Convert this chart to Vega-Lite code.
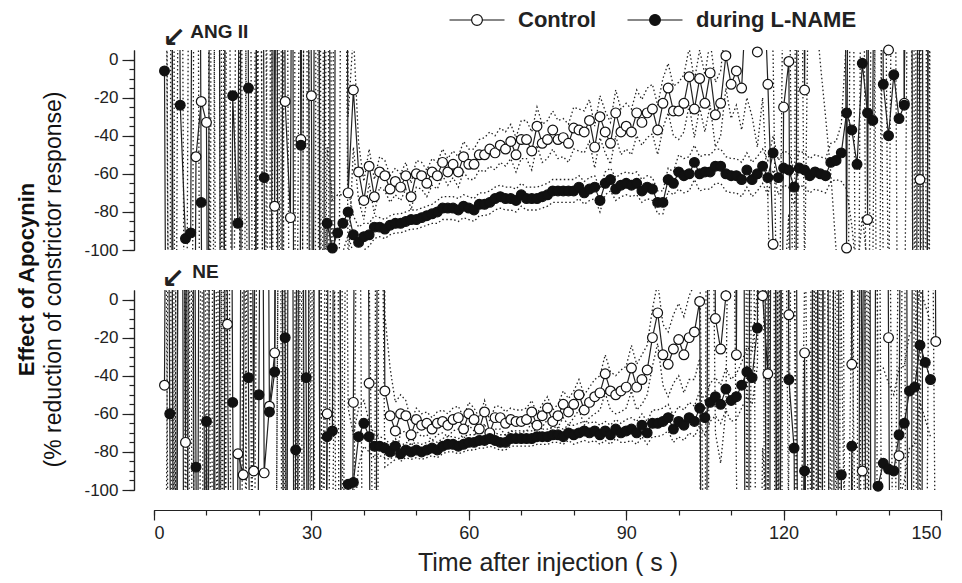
{
"$schema":"https://vega.github.io/schema/vega-lite/v6.json",
"usermeta":{"embedOptions":{"actions":false}},
"background":"white",
"padding":{"left":15,"top":8,"right":8,"bottom":5},
"config":{"view":{"stroke":null},"font":"Liberation Sans","axis":{"domainColor":"#222","tickColor":"#222","labelColor":"#222","titleColor":"#222","labelFont":"Liberation Sans","titleFont":"Liberation Sans","grid":false,"domainWidth":1.2,"tickWidth":1.2}},
"title":{"text":"Effect of Apocynin","subtitle":"(% reduction of constrictor response)","orient":"left","anchor":"middle","frame":"bounds","dx":12,"font":"Liberation Sans","fontSize":22,"fontWeight":"bold","color":"#111","subtitleFont":"Liberation Sans","subtitleFontSize":23,"subtitleFontWeight":"normal","subtitleColor":"#111","subtitlePadding":4,"offset":17},
"data":{"values":[
{"p":"A","lab":"ANG II","t":6.9,"v":14.4},
{"p":"A","arr":"↙","t":3.8,"v":11},
{"p":"N","lab":"NE","t":7.3,"v":14.4},
{"p":"N","arr":"↙","t":3.6,"v":10},
{"p":"A","s":"C","t":2,"v":600,"lo":300,"hi":900},
{"p":"A","s":"C","t":3,"v":600,"lo":-300,"hi":1500},
{"p":"A","s":"C","t":4,"v":-600,"lo":-900,"hi":-300},
{"p":"A","s":"C","t":5,"v":-600,"lo":-1500,"hi":300},
{"p":"A","s":"C","t":6,"v":-600,"lo":-900,"hi":-300},
{"p":"A","s":"C","t":7,"v":-600,"lo":-1500,"hi":300},
{"p":"A","s":"C","t":8,"v":-51,"lo":-301,"hi":199},
{"p":"A","s":"C","t":9,"v":-22,"lo":-272,"hi":228},
{"p":"A","s":"C","t":10,"v":-33,"lo":-283,"hi":217},
{"p":"A","s":"C","t":11,"v":-600,"lo":-900,"hi":-300},
{"p":"A","s":"C","t":12,"v":-600,"lo":-1500,"hi":300},
{"p":"A","s":"C","t":13,"v":-600,"lo":-900,"hi":-300},
{"p":"A","s":"C","t":14,"v":600,"lo":300,"hi":900},
{"p":"A","s":"C","t":15,"v":600,"lo":-300,"hi":1500},
{"p":"A","s":"C","t":16,"v":600,"lo":300,"hi":900},
{"p":"A","s":"C","t":17,"v":-600,"lo":-900,"hi":-300},
{"p":"A","s":"C","t":18,"v":-600,"lo":-1500,"hi":300},
{"p":"A","s":"C","t":19,"v":-600,"lo":-900,"hi":-300},
{"p":"A","s":"C","t":20,"v":600,"lo":300,"hi":900},
{"p":"A","s":"C","t":21,"v":600,"lo":-300,"hi":1500},
{"p":"A","s":"C","t":22,"v":600,"lo":300,"hi":900},
{"p":"A","s":"C","t":23,"v":-77,"lo":-327,"hi":173},
{"p":"A","s":"C","t":24,"v":600,"lo":300,"hi":900},
{"p":"A","s":"C","t":25,"v":-22,"lo":-272,"hi":228},
{"p":"A","s":"C","t":26,"v":-83,"lo":-333,"hi":167},
{"p":"A","s":"C","t":27,"v":600,"lo":-300,"hi":1500},
{"p":"A","s":"C","t":28,"v":-42,"lo":-292,"hi":208},
{"p":"A","s":"C","t":29,"v":600,"lo":300,"hi":900},
{"p":"A","s":"C","t":30,"v":-19,"lo":-269,"hi":231},
{"p":"A","s":"C","t":31,"v":-600,"lo":-1500,"hi":300},
{"p":"A","s":"C","t":32,"v":-600,"lo":-900,"hi":-300},
{"p":"A","s":"C","t":33,"v":600,"lo":300,"hi":900},
{"p":"A","s":"C","t":34,"v":-600,"lo":-900,"hi":-300},
{"p":"A","s":"C","t":35,"v":600,"lo":-300,"hi":1500},
{"p":"A","s":"C","t":36,"v":600,"lo":300,"hi":900},
{"p":"A","s":"C","t":37,"v":-70,"lo":-110,"hi":-30},
{"p":"A","s":"C","t":38,"v":-16,"lo":-46,"hi":14},
{"p":"A","s":"C","t":39,"v":-59,"lo":-74,"hi":-44},
{"p":"A","s":"C","t":40,"v":-74,"lo":-84,"hi":-64},
{"p":"A","s":"C","t":41,"v":-56,"lo":-65,"hi":-47},
{"p":"A","s":"C","t":42,"v":-72,"lo":-81,"hi":-63},
{"p":"A","s":"C","t":43,"v":-59,"lo":-67,"hi":-51},
{"p":"A","s":"C","t":44,"v":-61,"lo":-69,"hi":-53},
{"p":"A","s":"C","t":45,"v":-68,"lo":-75,"hi":-61},
{"p":"A","s":"C","t":46,"v":-64,"lo":-71,"hi":-57},
{"p":"A","s":"C","t":47,"v":-67,"lo":-74,"hi":-60},
{"p":"A","s":"C","t":48,"v":-61,"lo":-68,"hi":-54},
{"p":"A","s":"C","t":49,"v":-72,"lo":-79,"hi":-65},
{"p":"A","s":"C","t":50,"v":-60,"lo":-67,"hi":-53},
{"p":"A","s":"C","t":51,"v":-61,"lo":-68,"hi":-54},
{"p":"A","s":"C","t":52,"v":-65,"lo":-72,"hi":-58},
{"p":"A","s":"C","t":53,"v":-59,"lo":-66,"hi":-52},
{"p":"A","s":"C","t":54,"v":-61,"lo":-68,"hi":-54},
{"p":"A","s":"C","t":55,"v":-54,"lo":-61,"hi":-47},
{"p":"A","s":"C","t":56,"v":-59,"lo":-66,"hi":-52},
{"p":"A","s":"C","t":57,"v":-55,"lo":-62,"hi":-48},
{"p":"A","s":"C","t":58,"v":-59,"lo":-67,"hi":-51},
{"p":"A","s":"C","t":59,"v":-51,"lo":-59,"hi":-43},
{"p":"A","s":"C","t":60,"v":-55,"lo":-63,"hi":-47},
{"p":"A","s":"C","t":61,"v":-55,"lo":-63,"hi":-47},
{"p":"A","s":"C","t":62,"v":-50,"lo":-58,"hi":-42},
{"p":"A","s":"C","t":63,"v":-50,"lo":-59,"hi":-41},
{"p":"A","s":"C","t":64,"v":-47,"lo":-56,"hi":-38},
{"p":"A","s":"C","t":65,"v":-49,"lo":-58,"hi":-40},
{"p":"A","s":"C","t":66,"v":-45,"lo":-54,"hi":-36},
{"p":"A","s":"C","t":67,"v":-47,"lo":-56,"hi":-38},
{"p":"A","s":"C","t":68,"v":-43,"lo":-52,"hi":-34},
{"p":"A","s":"C","t":69,"v":-50,"lo":-59,"hi":-41},
{"p":"A","s":"C","t":70,"v":-42,"lo":-52,"hi":-32},
{"p":"A","s":"C","t":71,"v":-42,"lo":-52,"hi":-32},
{"p":"A","s":"C","t":72,"v":-48,"lo":-58,"hi":-38},
{"p":"A","s":"C","t":73,"v":-35,"lo":-45,"hi":-25},
{"p":"A","s":"C","t":74,"v":-44,"lo":-54,"hi":-34},
{"p":"A","s":"C","t":75,"v":-42,"lo":-52,"hi":-32},
{"p":"A","s":"C","t":76,"v":-37,"lo":-47,"hi":-27},
{"p":"A","s":"C","t":77,"v":-42,"lo":-52,"hi":-32},
{"p":"A","s":"C","t":78,"v":-41,"lo":-51,"hi":-31},
{"p":"A","s":"C","t":79,"v":-44,"lo":-54,"hi":-34},
{"p":"A","s":"C","t":80,"v":-36,"lo":-47,"hi":-25},
{"p":"A","s":"C","t":81,"v":-37,"lo":-48,"hi":-26},
{"p":"A","s":"C","t":82,"v":-38,"lo":-49,"hi":-27},
{"p":"A","s":"C","t":83,"v":-32,"lo":-43,"hi":-21},
{"p":"A","s":"C","t":84,"v":-46,"lo":-57,"hi":-35},
{"p":"A","s":"C","t":85,"v":-30,"lo":-41,"hi":-19},
{"p":"A","s":"C","t":86,"v":-38,"lo":-49,"hi":-27},
{"p":"A","s":"C","t":87,"v":-44,"lo":-55,"hi":-33},
{"p":"A","s":"C","t":88,"v":-28,"lo":-40,"hi":-16},
{"p":"A","s":"C","t":89,"v":-38,"lo":-50,"hi":-26},
{"p":"A","s":"C","t":90,"v":-35,"lo":-47,"hi":-23},
{"p":"A","s":"C","t":91,"v":-38,"lo":-50,"hi":-26},
{"p":"A","s":"C","t":92,"v":-28,"lo":-40,"hi":-16},
{"p":"A","s":"C","t":93,"v":-33,"lo":-45,"hi":-21},
{"p":"A","s":"C","t":94,"v":-28,"lo":-41,"hi":-15},
{"p":"A","s":"C","t":95,"v":-26,"lo":-39,"hi":-13},
{"p":"A","s":"C","t":96,"v":-37,"lo":-50,"hi":-24},
{"p":"A","s":"C","t":97,"v":-23,"lo":-36,"hi":-10},
{"p":"A","s":"C","t":98,"v":-15,"lo":-28,"hi":-2},
{"p":"A","s":"C","t":99,"v":-27,"lo":-40,"hi":-14},
{"p":"A","s":"C","t":100,"v":-27,"lo":-42,"hi":-12},
{"p":"A","s":"C","t":101,"v":-23,"lo":-38,"hi":-8},
{"p":"A","s":"C","t":102,"v":-9,"lo":-24,"hi":6},
{"p":"A","s":"C","t":103,"v":-26,"lo":-41,"hi":-11},
{"p":"A","s":"C","t":104,"v":-10,"lo":-25,"hi":5},
{"p":"A","s":"C","t":105,"v":-23,"lo":-38,"hi":-8},
{"p":"A","s":"C","t":106,"v":-7,"lo":-24,"hi":10},
{"p":"A","s":"C","t":107,"v":-29,"lo":-46,"hi":-12},
{"p":"A","s":"C","t":108,"v":-23,"lo":-40,"hi":-6},
{"p":"A","s":"C","t":109,"v":2,"lo":-15,"hi":19},
{"p":"A","s":"C","t":110,"v":-13,"lo":-31,"hi":5},
{"p":"A","s":"C","t":111,"v":-6,"lo":-24,"hi":12},
{"p":"A","s":"C","t":112,"v":-15,"lo":-37,"hi":7},
{"p":"A","s":"C","t":113,"v":40,"lo":-20,"hi":100},
{"p":"A","s":"C","t":114,"v":30,"lo":-30,"hi":90},
{"p":"A","s":"C","t":115,"v":4,"lo":-46,"hi":54},
{"p":"A","s":"C","t":116,"v":60,"lo":-20,"hi":140},
{"p":"A","s":"C","t":117,"v":-13,"lo":-73,"hi":47},
{"p":"A","s":"C","t":118,"v":-97,"lo":-197,"hi":3},
{"p":"A","s":"C","t":119,"v":-500,"lo":-800,"hi":-200},
{"p":"A","s":"C","t":120,"v":-25,"lo":-125,"hi":75},
{"p":"A","s":"C","t":121,"v":-1,"lo":-81,"hi":79},
{"p":"A","s":"C","t":122,"v":-500,"lo":-800,"hi":-200},
{"p":"A","s":"C","t":123,"v":500,"lo":200,"hi":800},
{"p":"A","s":"C","t":124,"v":-16,"lo":-116,"hi":84},
{"p":"A","s":"C","t":125,"v":500,"lo":100,"hi":900},
{"p":"A","s":"C","t":126,"v":500,"lo":30,"hi":970},
{"p":"A","s":"C","t":127,"v":500,"lo":-2,"hi":1000},
{"p":"A","s":"C","t":128,"v":500,"lo":-30,"hi":1030},
{"p":"A","s":"C","t":129,"v":500,"lo":-60,"hi":1060},
{"p":"A","s":"C","t":130,"v":500,"lo":-100,"hi":1100},
{"p":"A","s":"C","t":131,"v":500,"lo":-150,"hi":1150},
{"p":"A","s":"C","t":132,"v":-99,"lo":-299,"hi":101},
{"p":"A","s":"C","t":133,"v":500,"lo":200,"hi":800},
{"p":"A","s":"C","t":134,"v":500,"lo":-300,"hi":1300},
{"p":"A","s":"C","t":135,"v":500,"lo":200,"hi":800},
{"p":"A","s":"C","t":136,"v":-84,"lo":-284,"hi":116},
{"p":"A","s":"C","t":137,"v":500,"lo":200,"hi":800},
{"p":"A","s":"C","t":138,"v":500,"lo":-300,"hi":1300},
{"p":"A","s":"C","t":139,"v":500,"lo":200,"hi":800},
{"p":"A","s":"C","t":140,"v":5,"lo":-145,"hi":155},
{"p":"A","s":"C","t":141,"v":500,"lo":200,"hi":800},
{"p":"A","s":"C","t":142,"v":500,"lo":-300,"hi":1300},
{"p":"A","s":"C","t":143,"v":-23,"lo":-173,"hi":127},
{"p":"A","s":"C","t":144,"v":500,"lo":200,"hi":800},
{"p":"A","s":"C","t":145,"v":500,"lo":-300,"hi":1300},
{"p":"A","s":"C","t":146,"v":-63,"lo":-263,"hi":137},
{"p":"A","s":"C","t":147,"v":-500,"lo":-800,"hi":-200},
{"p":"A","s":"C","t":148,"v":500,"lo":200,"hi":800},
{"p":"A","s":"L","t":2,"v":-6,"lo":-256,"hi":244},
{"p":"A","s":"L","t":3,"v":-600,"lo":-900,"hi":-300},
{"p":"A","s":"L","t":4,"v":600,"lo":-300,"hi":1500},
{"p":"A","s":"L","t":5,"v":-24,"lo":-274,"hi":226},
{"p":"A","s":"L","t":6,"v":-94,"lo":-344,"hi":156},
{"p":"A","s":"L","t":7,"v":-91,"lo":-341,"hi":159},
{"p":"A","s":"L","t":8,"v":600,"lo":300,"hi":900},
{"p":"A","s":"L","t":9,"v":-75,"lo":-325,"hi":175},
{"p":"A","s":"L","t":10,"v":-600,"lo":-1500,"hi":300},
{"p":"A","s":"L","t":11,"v":600,"lo":300,"hi":900},
{"p":"A","s":"L","t":12,"v":600,"lo":-300,"hi":1500},
{"p":"A","s":"L","t":13,"v":-600,"lo":-900,"hi":-300},
{"p":"A","s":"L","t":14,"v":-600,"lo":-1500,"hi":300},
{"p":"A","s":"L","t":15,"v":-19,"lo":-269,"hi":231},
{"p":"A","s":"L","t":16,"v":-86,"lo":-336,"hi":164},
{"p":"A","s":"L","t":17,"v":600,"lo":300,"hi":900},
{"p":"A","s":"L","t":18,"v":-15,"lo":-265,"hi":235},
{"p":"A","s":"L","t":19,"v":-600,"lo":-1500,"hi":300},
{"p":"A","s":"L","t":20,"v":600,"lo":300,"hi":900},
{"p":"A","s":"L","t":21,"v":-62,"lo":-312,"hi":188},
{"p":"A","s":"L","t":22,"v":-600,"lo":-900,"hi":-300},
{"p":"A","s":"L","t":23,"v":600,"lo":-300,"hi":1500},
{"p":"A","s":"L","t":24,"v":-600,"lo":-900,"hi":-300},
{"p":"A","s":"L","t":25,"v":600,"lo":300,"hi":900},
{"p":"A","s":"L","t":26,"v":600,"lo":-300,"hi":1500},
{"p":"A","s":"L","t":27,"v":-600,"lo":-900,"hi":-300},
{"p":"A","s":"L","t":28,"v":-45,"lo":-295,"hi":205},
{"p":"A","s":"L","t":29,"v":600,"lo":300,"hi":900},
{"p":"A","s":"L","t":30,"v":-600,"lo":-1500,"hi":300},
{"p":"A","s":"L","t":31,"v":600,"lo":300,"hi":900},
{"p":"A","s":"L","t":32,"v":-600,"lo":-900,"hi":-300},
{"p":"A","s":"L","t":33,"v":-86,"lo":-126,"hi":-46},
{"p":"A","s":"L","t":34,"v":-99,"lo":-124,"hi":-74},
{"p":"A","s":"L","t":35,"v":-91,"lo":-111,"hi":-71},
{"p":"A","s":"L","t":36,"v":-86,"lo":-101,"hi":-71},
{"p":"A","s":"L","t":37,"v":-80,"lo":-92,"hi":-68},
{"p":"A","s":"L","t":38,"v":-92,"lo":-102,"hi":-82},
{"p":"A","s":"L","t":39,"v":-96,"lo":-104,"hi":-88},
{"p":"A","s":"L","t":40,"v":-93,"lo":-100,"hi":-86},
{"p":"A","s":"L","t":41,"v":-92,"lo":-98,"hi":-86},
{"p":"A","s":"L","t":42,"v":-88,"lo":-94,"hi":-82},
{"p":"A","s":"L","t":43,"v":-88,"lo":-93,"hi":-83},
{"p":"A","s":"L","t":44,"v":-89,"lo":-94,"hi":-84},
{"p":"A","s":"L","t":45,"v":-87,"lo":-92,"hi":-82},
{"p":"A","s":"L","t":46,"v":-86,"lo":-91,"hi":-81},
{"p":"A","s":"L","t":47,"v":-86,"lo":-91,"hi":-81},
{"p":"A","s":"L","t":48,"v":-85,"lo":-90,"hi":-80},
{"p":"A","s":"L","t":49,"v":-84,"lo":-89,"hi":-79},
{"p":"A","s":"L","t":50,"v":-84,"lo":-89,"hi":-79},
{"p":"A","s":"L","t":51,"v":-83,"lo":-88,"hi":-78},
{"p":"A","s":"L","t":52,"v":-82,"lo":-87,"hi":-77},
{"p":"A","s":"L","t":53,"v":-81,"lo":-86,"hi":-76},
{"p":"A","s":"L","t":54,"v":-80,"lo":-86,"hi":-74},
{"p":"A","s":"L","t":55,"v":-78,"lo":-84,"hi":-72},
{"p":"A","s":"L","t":56,"v":-78,"lo":-84,"hi":-72},
{"p":"A","s":"L","t":57,"v":-78,"lo":-84,"hi":-72},
{"p":"A","s":"L","t":58,"v":-79,"lo":-85,"hi":-73},
{"p":"A","s":"L","t":59,"v":-77,"lo":-83,"hi":-71},
{"p":"A","s":"L","t":60,"v":-78,"lo":-84,"hi":-72},
{"p":"A","s":"L","t":61,"v":-79,"lo":-85,"hi":-73},
{"p":"A","s":"L","t":62,"v":-76,"lo":-82,"hi":-70},
{"p":"A","s":"L","t":63,"v":-76,"lo":-82,"hi":-70},
{"p":"A","s":"L","t":64,"v":-75,"lo":-81,"hi":-69},
{"p":"A","s":"L","t":65,"v":-73,"lo":-79,"hi":-67},
{"p":"A","s":"L","t":66,"v":-72,"lo":-78,"hi":-66},
{"p":"A","s":"L","t":67,"v":-73,"lo":-79,"hi":-67},
{"p":"A","s":"L","t":68,"v":-73,"lo":-79,"hi":-67},
{"p":"A","s":"L","t":69,"v":-74,"lo":-80,"hi":-68},
{"p":"A","s":"L","t":70,"v":-71,"lo":-77,"hi":-65},
{"p":"A","s":"L","t":71,"v":-73,"lo":-79,"hi":-67},
{"p":"A","s":"L","t":72,"v":-73,"lo":-79,"hi":-67},
{"p":"A","s":"L","t":73,"v":-73,"lo":-79,"hi":-67},
{"p":"A","s":"L","t":74,"v":-72,"lo":-78,"hi":-66},
{"p":"A","s":"L","t":75,"v":-71,"lo":-77,"hi":-65},
{"p":"A","s":"L","t":76,"v":-69,"lo":-75,"hi":-63},
{"p":"A","s":"L","t":77,"v":-69,"lo":-75,"hi":-63},
{"p":"A","s":"L","t":78,"v":-69,"lo":-75,"hi":-63},
{"p":"A","s":"L","t":79,"v":-69,"lo":-75,"hi":-63},
{"p":"A","s":"L","t":80,"v":-69,"lo":-75,"hi":-63},
{"p":"A","s":"L","t":81,"v":-67,"lo":-73,"hi":-61},
{"p":"A","s":"L","t":82,"v":-70,"lo":-76,"hi":-64},
{"p":"A","s":"L","t":83,"v":-68,"lo":-74,"hi":-62},
{"p":"A","s":"L","t":84,"v":-67,"lo":-73,"hi":-61},
{"p":"A","s":"L","t":85,"v":-74,"lo":-80,"hi":-68},
{"p":"A","s":"L","t":86,"v":-65,"lo":-71,"hi":-59},
{"p":"A","s":"L","t":87,"v":-63,"lo":-69,"hi":-57},
{"p":"A","s":"L","t":88,"v":-68,"lo":-74,"hi":-62},
{"p":"A","s":"L","t":89,"v":-66,"lo":-72,"hi":-60},
{"p":"A","s":"L","t":90,"v":-65,"lo":-71,"hi":-59},
{"p":"A","s":"L","t":91,"v":-66,"lo":-72,"hi":-60},
{"p":"A","s":"L","t":92,"v":-65,"lo":-71,"hi":-59},
{"p":"A","s":"L","t":93,"v":-69,"lo":-75,"hi":-63},
{"p":"A","s":"L","t":94,"v":-67,"lo":-73,"hi":-61},
{"p":"A","s":"L","t":95,"v":-68,"lo":-74,"hi":-62},
{"p":"A","s":"L","t":96,"v":-75,"lo":-81,"hi":-69},
{"p":"A","s":"L","t":97,"v":-75,"lo":-81,"hi":-69},
{"p":"A","s":"L","t":98,"v":-63,"lo":-69,"hi":-57},
{"p":"A","s":"L","t":99,"v":-65,"lo":-71,"hi":-59},
{"p":"A","s":"L","t":100,"v":-59,"lo":-68,"hi":-50},
{"p":"A","s":"L","t":101,"v":-61,"lo":-70,"hi":-52},
{"p":"A","s":"L","t":102,"v":-60,"lo":-69,"hi":-51},
{"p":"A","s":"L","t":103,"v":-54,"lo":-63,"hi":-45},
{"p":"A","s":"L","t":104,"v":-60,"lo":-69,"hi":-51},
{"p":"A","s":"L","t":105,"v":-59,"lo":-68,"hi":-50},
{"p":"A","s":"L","t":106,"v":-59,"lo":-68,"hi":-50},
{"p":"A","s":"L","t":107,"v":-56,"lo":-65,"hi":-47},
{"p":"A","s":"L","t":108,"v":-56,"lo":-65,"hi":-47},
{"p":"A","s":"L","t":109,"v":-60,"lo":-69,"hi":-51},
{"p":"A","s":"L","t":110,"v":-61,"lo":-70,"hi":-52},
{"p":"A","s":"L","t":111,"v":-61,"lo":-70,"hi":-52},
{"p":"A","s":"L","t":112,"v":-63,"lo":-72,"hi":-54},
{"p":"A","s":"L","t":113,"v":-58,"lo":-67,"hi":-49},
{"p":"A","s":"L","t":114,"v":-63,"lo":-72,"hi":-54},
{"p":"A","s":"L","t":115,"v":-60,"lo":-69,"hi":-51},
{"p":"A","s":"L","t":116,"v":-56,"lo":-65,"hi":-47},
{"p":"A","s":"L","t":117,"v":-62,"lo":-71,"hi":-53},
{"p":"A","s":"L","t":118,"v":-49,"lo":-58,"hi":-40},
{"p":"A","s":"L","t":119,"v":-62,"lo":-71,"hi":-53},
{"p":"A","s":"L","t":120,"v":-57,"lo":-66,"hi":-48},
{"p":"A","s":"L","t":121,"v":-58,"lo":-67,"hi":-49},
{"p":"A","s":"L","t":122,"v":-67,"lo":-76,"hi":-58},
{"p":"A","s":"L","t":123,"v":-57,"lo":-66,"hi":-48},
{"p":"A","s":"L","t":124,"v":-58,"lo":-67,"hi":-49},
{"p":"A","s":"L","t":125,"v":-61,"lo":-70,"hi":-52},
{"p":"A","s":"L","t":126,"v":-59,"lo":-68,"hi":-50},
{"p":"A","s":"L","t":127,"v":-60,"lo":-69,"hi":-51},
{"p":"A","s":"L","t":128,"v":-61,"lo":-70,"hi":-52},
{"p":"A","s":"L","t":129,"v":-54,"lo":-64,"hi":-44},
{"p":"A","s":"L","t":130,"v":-53,"lo":-63,"hi":-43},
{"p":"A","s":"L","t":131,"v":-49,"lo":-64,"hi":-34},
{"p":"A","s":"L","t":132,"v":-28,"lo":-68,"hi":12},
{"p":"A","s":"L","t":133,"v":-37,"lo":-87,"hi":13},
{"p":"A","s":"L","t":134,"v":-55,"lo":-115,"hi":5},
{"p":"A","s":"L","t":135,"v":-2,"lo":-82,"hi":78},
{"p":"A","s":"L","t":136,"v":-28,"lo":-108,"hi":52},
{"p":"A","s":"L","t":137,"v":-32,"lo":-112,"hi":48},
{"p":"A","s":"L","t":138,"v":500,"lo":200,"hi":800},
{"p":"A","s":"L","t":139,"v":-13,"lo":-113,"hi":87},
{"p":"A","s":"L","t":140,"v":-40,"lo":-140,"hi":60},
{"p":"A","s":"L","t":141,"v":-8,"lo":-108,"hi":92},
{"p":"A","s":"L","t":142,"v":-31,"lo":-131,"hi":69},
{"p":"A","s":"L","t":143,"v":-24,"lo":-124,"hi":76},
{"p":"A","s":"L","t":144,"v":500,"lo":-300,"hi":1300},
{"p":"A","s":"L","t":145,"v":-500,"lo":-800,"hi":-200},
{"p":"A","s":"L","t":146,"v":500,"lo":200,"hi":800},
{"p":"A","s":"L","t":147,"v":-500,"lo":-1300,"hi":300},
{"p":"A","s":"L","t":148,"v":500,"lo":200,"hi":800},
{"p":"N","s":"C","t":2,"v":-45,"lo":-295,"hi":205},
{"p":"N","s":"C","t":3,"v":500,"lo":200,"hi":800},
{"p":"N","s":"C","t":4,"v":-500,"lo":-800,"hi":-200},
{"p":"N","s":"C","t":5,"v":500,"lo":-300,"hi":1300},
{"p":"N","s":"C","t":6,"v":-75,"lo":-325,"hi":175},
{"p":"N","s":"C","t":7,"v":500,"lo":200,"hi":800},
{"p":"N","s":"C","t":8,"v":-500,"lo":-1300,"hi":300},
{"p":"N","s":"C","t":9,"v":500,"lo":200,"hi":800},
{"p":"N","s":"C","t":10,"v":-500,"lo":-800,"hi":-200},
{"p":"N","s":"C","t":11,"v":500,"lo":-300,"hi":1300},
{"p":"N","s":"C","t":12,"v":-500,"lo":-800,"hi":-200},
{"p":"N","s":"C","t":13,"v":500,"lo":200,"hi":800},
{"p":"N","s":"C","t":14,"v":-13,"lo":-263,"hi":237},
{"p":"N","s":"C","t":15,"v":-500,"lo":-1300,"hi":300},
{"p":"N","s":"C","t":16,"v":-81,"lo":-331,"hi":169},
{"p":"N","s":"C","t":17,"v":-92,"lo":-342,"hi":158},
{"p":"N","s":"C","t":18,"v":500,"lo":200,"hi":800},
{"p":"N","s":"C","t":19,"v":-90,"lo":-340,"hi":160},
{"p":"N","s":"C","t":20,"v":500,"lo":-300,"hi":1300},
{"p":"N","s":"C","t":21,"v":-91,"lo":-341,"hi":159},
{"p":"N","s":"C","t":22,"v":-56,"lo":-306,"hi":194},
{"p":"N","s":"C","t":23,"v":-28,"lo":-278,"hi":222},
{"p":"N","s":"C","t":24,"v":500,"lo":200,"hi":800},
{"p":"N","s":"C","t":25,"v":-500,"lo":-800,"hi":-200},
{"p":"N","s":"C","t":26,"v":500,"lo":-300,"hi":1300},
{"p":"N","s":"C","t":27,"v":-500,"lo":-800,"hi":-200},
{"p":"N","s":"C","t":28,"v":500,"lo":200,"hi":800},
{"p":"N","s":"C","t":29,"v":-500,"lo":-1300,"hi":300},
{"p":"N","s":"C","t":30,"v":500,"lo":200,"hi":800},
{"p":"N","s":"C","t":31,"v":500,"lo":-300,"hi":1300},
{"p":"N","s":"C","t":32,"v":-500,"lo":-800,"hi":-200},
{"p":"N","s":"C","t":33,"v":-60,"lo":-310,"hi":190},
{"p":"N","s":"C","t":34,"v":500,"lo":200,"hi":800},
{"p":"N","s":"C","t":35,"v":500,"lo":-300,"hi":1300},
{"p":"N","s":"C","t":36,"v":-500,"lo":-800,"hi":-200},
{"p":"N","s":"C","t":37,"v":-500,"lo":-1300,"hi":300},
{"p":"N","s":"C","t":38,"v":-54,"lo":-154,"hi":46},
{"p":"N","s":"C","t":39,"v":500,"lo":200,"hi":800},
{"p":"N","s":"C","t":40,"v":500,"lo":-300,"hi":1300},
{"p":"N","s":"C","t":41,"v":-44,"lo":-104,"hi":16},
{"p":"N","s":"C","t":42,"v":-500,"lo":-800,"hi":-200},
{"p":"N","s":"C","t":43,"v":500,"lo":200,"hi":800},
{"p":"N","s":"C","t":44,"v":-48,"lo":-88,"hi":-8},
{"p":"N","s":"C","t":45,"v":-61,"lo":-86,"hi":-36},
{"p":"N","s":"C","t":46,"v":-69,"lo":-84,"hi":-54},
{"p":"N","s":"C","t":47,"v":-60,"lo":-70,"hi":-50},
{"p":"N","s":"C","t":48,"v":-61,"lo":-69,"hi":-53},
{"p":"N","s":"C","t":49,"v":-71,"lo":-78,"hi":-64},
{"p":"N","s":"C","t":50,"v":-63,"lo":-69,"hi":-57},
{"p":"N","s":"C","t":51,"v":-66,"lo":-72,"hi":-60},
{"p":"N","s":"C","t":52,"v":-65,"lo":-71,"hi":-59},
{"p":"N","s":"C","t":53,"v":-68,"lo":-74,"hi":-62},
{"p":"N","s":"C","t":54,"v":-65,"lo":-71,"hi":-59},
{"p":"N","s":"C","t":55,"v":-64,"lo":-70,"hi":-58},
{"p":"N","s":"C","t":56,"v":-66,"lo":-72,"hi":-60},
{"p":"N","s":"C","t":57,"v":-63,"lo":-69,"hi":-57},
{"p":"N","s":"C","t":58,"v":-62,"lo":-68,"hi":-56},
{"p":"N","s":"C","t":59,"v":-68,"lo":-74,"hi":-62},
{"p":"N","s":"C","t":60,"v":-60,"lo":-66,"hi":-54},
{"p":"N","s":"C","t":61,"v":-63,"lo":-69,"hi":-57},
{"p":"N","s":"C","t":62,"v":-68,"lo":-74,"hi":-62},
{"p":"N","s":"C","t":63,"v":-59,"lo":-65,"hi":-53},
{"p":"N","s":"C","t":64,"v":-70,"lo":-76,"hi":-64},
{"p":"N","s":"C","t":65,"v":-62,"lo":-68,"hi":-56},
{"p":"N","s":"C","t":66,"v":-62,"lo":-68,"hi":-56},
{"p":"N","s":"C","t":67,"v":-65,"lo":-71,"hi":-59},
{"p":"N","s":"C","t":68,"v":-63,"lo":-69,"hi":-57},
{"p":"N","s":"C","t":69,"v":-64,"lo":-70,"hi":-58},
{"p":"N","s":"C","t":70,"v":-64,"lo":-70,"hi":-58},
{"p":"N","s":"C","t":71,"v":-63,"lo":-69,"hi":-57},
{"p":"N","s":"C","t":72,"v":-59,"lo":-65,"hi":-53},
{"p":"N","s":"C","t":73,"v":-66,"lo":-72,"hi":-60},
{"p":"N","s":"C","t":74,"v":-61,"lo":-67,"hi":-55},
{"p":"N","s":"C","t":75,"v":-57,"lo":-63,"hi":-51},
{"p":"N","s":"C","t":76,"v":-64,"lo":-70,"hi":-58},
{"p":"N","s":"C","t":77,"v":-61,"lo":-67,"hi":-55},
{"p":"N","s":"C","t":78,"v":-55,"lo":-62,"hi":-48},
{"p":"N","s":"C","t":79,"v":-59,"lo":-66,"hi":-52},
{"p":"N","s":"C","t":80,"v":-55,"lo":-62,"hi":-48},
{"p":"N","s":"C","t":81,"v":-50,"lo":-58,"hi":-42},
{"p":"N","s":"C","t":82,"v":-58,"lo":-66,"hi":-50},
{"p":"N","s":"C","t":83,"v":-54,"lo":-62,"hi":-46},
{"p":"N","s":"C","t":84,"v":-51,"lo":-60,"hi":-42},
{"p":"N","s":"C","t":85,"v":-49,"lo":-58,"hi":-40},
{"p":"N","s":"C","t":86,"v":-39,"lo":-49,"hi":-29},
{"p":"N","s":"C","t":87,"v":-48,"lo":-58,"hi":-38},
{"p":"N","s":"C","t":88,"v":-50,"lo":-60,"hi":-40},
{"p":"N","s":"C","t":89,"v":-48,"lo":-59,"hi":-37},
{"p":"N","s":"C","t":90,"v":-46,"lo":-57,"hi":-35},
{"p":"N","s":"C","t":91,"v":-36,"lo":-48,"hi":-24},
{"p":"N","s":"C","t":92,"v":-46,"lo":-58,"hi":-34},
{"p":"N","s":"C","t":93,"v":-42,"lo":-55,"hi":-29},
{"p":"N","s":"C","t":94,"v":-37,"lo":-50,"hi":-24},
{"p":"N","s":"C","t":95,"v":-20,"lo":-35,"hi":-5},
{"p":"N","s":"C","t":96,"v":-7,"lo":-23,"hi":9},
{"p":"N","s":"C","t":97,"v":-29,"lo":-45,"hi":-13},
{"p":"N","s":"C","t":98,"v":-34,"lo":-51,"hi":-17},
{"p":"N","s":"C","t":99,"v":-26,"lo":-44,"hi":-8},
{"p":"N","s":"C","t":100,"v":-21,"lo":-40,"hi":-2},
{"p":"N","s":"C","t":101,"v":-29,"lo":-49,"hi":-9},
{"p":"N","s":"C","t":102,"v":-20,"lo":-42,"hi":2},
{"p":"N","s":"C","t":103,"v":-17,"lo":-42,"hi":8},
{"p":"N","s":"C","t":104,"v":-1,"lo":-31,"hi":29},
{"p":"N","s":"C","t":105,"v":-500,"lo":-800,"hi":-200},
{"p":"N","s":"C","t":106,"v":500,"lo":200,"hi":800},
{"p":"N","s":"C","t":107,"v":-10,"lo":-70,"hi":50},
{"p":"N","s":"C","t":108,"v":-26,"lo":-86,"hi":34},
{"p":"N","s":"C","t":109,"v":2,"lo":-58,"hi":62},
{"p":"N","s":"C","t":110,"v":500,"lo":200,"hi":800},
{"p":"N","s":"C","t":111,"v":-29,"lo":-89,"hi":31},
{"p":"N","s":"C","t":112,"v":500,"lo":-300,"hi":1300},
{"p":"N","s":"C","t":113,"v":-500,"lo":-800,"hi":-200},
{"p":"N","s":"C","t":114,"v":500,"lo":200,"hi":800},
{"p":"N","s":"C","t":115,"v":500,"lo":-300,"hi":1300},
{"p":"N","s":"C","t":116,"v":2,"lo":-78,"hi":82},
{"p":"N","s":"C","t":117,"v":-39,"lo":-119,"hi":41},
{"p":"N","s":"C","t":118,"v":500,"lo":200,"hi":800},
{"p":"N","s":"C","t":119,"v":-500,"lo":-800,"hi":-200},
{"p":"N","s":"C","t":120,"v":500,"lo":-300,"hi":1300},
{"p":"N","s":"C","t":121,"v":-8,"lo":-88,"hi":72},
{"p":"N","s":"C","t":122,"v":500,"lo":200,"hi":800},
{"p":"N","s":"C","t":123,"v":-500,"lo":-1300,"hi":300},
{"p":"N","s":"C","t":124,"v":-28,"lo":-128,"hi":72},
{"p":"N","s":"C","t":125,"v":-500,"lo":-800,"hi":-200},
{"p":"N","s":"C","t":126,"v":500,"lo":200,"hi":800},
{"p":"N","s":"C","t":127,"v":-500,"lo":-1300,"hi":300},
{"p":"N","s":"C","t":128,"v":500,"lo":200,"hi":800},
{"p":"N","s":"C","t":129,"v":500,"lo":-300,"hi":1300},
{"p":"N","s":"C","t":130,"v":-500,"lo":-800,"hi":-200},
{"p":"N","s":"C","t":131,"v":500,"lo":200,"hi":800},
{"p":"N","s":"C","t":132,"v":500,"lo":-300,"hi":1300},
{"p":"N","s":"C","t":133,"v":-34,"lo":-134,"hi":66},
{"p":"N","s":"C","t":134,"v":500,"lo":200,"hi":800},
{"p":"N","s":"C","t":135,"v":-90,"lo":-240,"hi":60},
{"p":"N","s":"C","t":136,"v":500,"lo":200,"hi":800},
{"p":"N","s":"C","t":137,"v":-500,"lo":-1300,"hi":300},
{"p":"N","s":"C","t":138,"v":500,"lo":200,"hi":800},
{"p":"N","s":"C","t":139,"v":500,"lo":-300,"hi":1300},
{"p":"N","s":"C","t":140,"v":-20,"lo":-170,"hi":130},
{"p":"N","s":"C","t":141,"v":-500,"lo":-800,"hi":-200},
{"p":"N","s":"C","t":142,"v":-82,"lo":-232,"hi":68},
{"p":"N","s":"C","t":143,"v":500,"lo":200,"hi":800},
{"p":"N","s":"C","t":144,"v":-500,"lo":-1300,"hi":300},
{"p":"N","s":"C","t":145,"v":500,"lo":200,"hi":800},
{"p":"N","s":"C","t":146,"v":-500,"lo":-800,"hi":-200},
{"p":"N","s":"C","t":147,"v":500,"lo":-300,"hi":1300},
{"p":"N","s":"C","t":148,"v":500,"lo":200,"hi":800},
{"p":"N","s":"C","t":149,"v":-22,"lo":-172,"hi":128},
{"p":"N","s":"L","t":2,"v":500,"lo":200,"hi":800},
{"p":"N","s":"L","t":3,"v":-60,"lo":-310,"hi":190},
{"p":"N","s":"L","t":4,"v":-500,"lo":-800,"hi":-200},
{"p":"N","s":"L","t":5,"v":500,"lo":-300,"hi":1300},
{"p":"N","s":"L","t":6,"v":-500,"lo":-800,"hi":-200},
{"p":"N","s":"L","t":7,"v":500,"lo":200,"hi":800},
{"p":"N","s":"L","t":8,"v":-88,"lo":-338,"hi":162},
{"p":"N","s":"L","t":9,"v":-500,"lo":-1300,"hi":300},
{"p":"N","s":"L","t":10,"v":-64,"lo":-314,"hi":186},
{"p":"N","s":"L","t":11,"v":-500,"lo":-800,"hi":-200},
{"p":"N","s":"L","t":12,"v":500,"lo":-300,"hi":1300},
{"p":"N","s":"L","t":13,"v":-500,"lo":-800,"hi":-200},
{"p":"N","s":"L","t":14,"v":500,"lo":200,"hi":800},
{"p":"N","s":"L","t":15,"v":-54,"lo":-304,"hi":196},
{"p":"N","s":"L","t":16,"v":-500,"lo":-1300,"hi":300},
{"p":"N","s":"L","t":17,"v":500,"lo":200,"hi":800},
{"p":"N","s":"L","t":18,"v":-41,"lo":-291,"hi":209},
{"p":"N","s":"L","t":19,"v":-500,"lo":-800,"hi":-200},
{"p":"N","s":"L","t":20,"v":-50,"lo":-300,"hi":200},
{"p":"N","s":"L","t":21,"v":500,"lo":-300,"hi":1300},
{"p":"N","s":"L","t":22,"v":-59,"lo":-309,"hi":191},
{"p":"N","s":"L","t":23,"v":-38,"lo":-288,"hi":212},
{"p":"N","s":"L","t":24,"v":500,"lo":200,"hi":800},
{"p":"N","s":"L","t":25,"v":-20,"lo":-270,"hi":230},
{"p":"N","s":"L","t":26,"v":-500,"lo":-1300,"hi":300},
{"p":"N","s":"L","t":27,"v":-79,"lo":-329,"hi":171},
{"p":"N","s":"L","t":28,"v":500,"lo":200,"hi":800},
{"p":"N","s":"L","t":29,"v":-41,"lo":-291,"hi":209},
{"p":"N","s":"L","t":30,"v":-500,"lo":-800,"hi":-200},
{"p":"N","s":"L","t":31,"v":500,"lo":-300,"hi":1300},
{"p":"N","s":"L","t":32,"v":-500,"lo":-800,"hi":-200},
{"p":"N","s":"L","t":33,"v":-72,"lo":-172,"hi":28},
{"p":"N","s":"L","t":34,"v":-69,"lo":-149,"hi":11},
{"p":"N","s":"L","t":35,"v":500,"lo":200,"hi":800},
{"p":"N","s":"L","t":36,"v":-500,"lo":-1300,"hi":300},
{"p":"N","s":"L","t":37,"v":-97,"lo":-137,"hi":-57},
{"p":"N","s":"L","t":38,"v":-96,"lo":-121,"hi":-71},
{"p":"N","s":"L","t":39,"v":-72,"lo":-87,"hi":-57},
{"p":"N","s":"L","t":40,"v":-65,"lo":-77,"hi":-53},
{"p":"N","s":"L","t":41,"v":-72,"lo":-80,"hi":-64},
{"p":"N","s":"L","t":42,"v":-77,"lo":-83,"hi":-71},
{"p":"N","s":"L","t":43,"v":-77,"lo":-82,"hi":-72},
{"p":"N","s":"L","t":44,"v":-78,"lo":-83,"hi":-73},
{"p":"N","s":"L","t":45,"v":-80,"lo":-84,"hi":-76},
{"p":"N","s":"L","t":46,"v":-77,"lo":-81,"hi":-73},
{"p":"N","s":"L","t":47,"v":-81,"lo":-85,"hi":-77},
{"p":"N","s":"L","t":48,"v":-79,"lo":-83,"hi":-75},
{"p":"N","s":"L","t":49,"v":-80,"lo":-84,"hi":-76},
{"p":"N","s":"L","t":50,"v":-79,"lo":-83,"hi":-75},
{"p":"N","s":"L","t":51,"v":-80,"lo":-84,"hi":-76},
{"p":"N","s":"L","t":52,"v":-79,"lo":-83,"hi":-75},
{"p":"N","s":"L","t":53,"v":-78,"lo":-82,"hi":-74},
{"p":"N","s":"L","t":54,"v":-79,"lo":-83,"hi":-75},
{"p":"N","s":"L","t":55,"v":-77,"lo":-81,"hi":-73},
{"p":"N","s":"L","t":56,"v":-76,"lo":-80,"hi":-72},
{"p":"N","s":"L","t":57,"v":-76,"lo":-80,"hi":-72},
{"p":"N","s":"L","t":58,"v":-77,"lo":-81,"hi":-73},
{"p":"N","s":"L","t":59,"v":-76,"lo":-80,"hi":-72},
{"p":"N","s":"L","t":60,"v":-75,"lo":-79,"hi":-71},
{"p":"N","s":"L","t":61,"v":-75,"lo":-79,"hi":-71},
{"p":"N","s":"L","t":62,"v":-74,"lo":-78,"hi":-70},
{"p":"N","s":"L","t":63,"v":-74,"lo":-78,"hi":-70},
{"p":"N","s":"L","t":64,"v":-73,"lo":-77,"hi":-69},
{"p":"N","s":"L","t":65,"v":-74,"lo":-78,"hi":-70},
{"p":"N","s":"L","t":66,"v":-75,"lo":-79,"hi":-71},
{"p":"N","s":"L","t":67,"v":-75,"lo":-79,"hi":-71},
{"p":"N","s":"L","t":68,"v":-73,"lo":-77,"hi":-69},
{"p":"N","s":"L","t":69,"v":-73,"lo":-77,"hi":-69},
{"p":"N","s":"L","t":70,"v":-73,"lo":-77,"hi":-69},
{"p":"N","s":"L","t":71,"v":-73,"lo":-77,"hi":-69},
{"p":"N","s":"L","t":72,"v":-73,"lo":-77,"hi":-69},
{"p":"N","s":"L","t":73,"v":-72,"lo":-76,"hi":-68},
{"p":"N","s":"L","t":74,"v":-72,"lo":-76,"hi":-68},
{"p":"N","s":"L","t":75,"v":-72,"lo":-76,"hi":-68},
{"p":"N","s":"L","t":76,"v":-71,"lo":-75,"hi":-67},
{"p":"N","s":"L","t":77,"v":-71,"lo":-75,"hi":-67},
{"p":"N","s":"L","t":78,"v":-72,"lo":-76,"hi":-68},
{"p":"N","s":"L","t":79,"v":-70,"lo":-74,"hi":-66},
{"p":"N","s":"L","t":80,"v":-71,"lo":-76,"hi":-66},
{"p":"N","s":"L","t":81,"v":-70,"lo":-75,"hi":-65},
{"p":"N","s":"L","t":82,"v":-69,"lo":-74,"hi":-64},
{"p":"N","s":"L","t":83,"v":-70,"lo":-75,"hi":-65},
{"p":"N","s":"L","t":84,"v":-69,"lo":-74,"hi":-64},
{"p":"N","s":"L","t":85,"v":-71,"lo":-76,"hi":-66},
{"p":"N","s":"L","t":86,"v":-69,"lo":-74,"hi":-64},
{"p":"N","s":"L","t":87,"v":-71,"lo":-76,"hi":-66},
{"p":"N","s":"L","t":88,"v":-68,"lo":-73,"hi":-63},
{"p":"N","s":"L","t":89,"v":-70,"lo":-75,"hi":-65},
{"p":"N","s":"L","t":90,"v":-69,"lo":-75,"hi":-63},
{"p":"N","s":"L","t":91,"v":-68,"lo":-74,"hi":-62},
{"p":"N","s":"L","t":92,"v":-70,"lo":-76,"hi":-64},
{"p":"N","s":"L","t":93,"v":-66,"lo":-72,"hi":-60},
{"p":"N","s":"L","t":94,"v":-70,"lo":-76,"hi":-64},
{"p":"N","s":"L","t":95,"v":-65,"lo":-72,"hi":-58},
{"p":"N","s":"L","t":96,"v":-65,"lo":-72,"hi":-58},
{"p":"N","s":"L","t":97,"v":-64,"lo":-71,"hi":-57},
{"p":"N","s":"L","t":98,"v":-62,"lo":-69,"hi":-55},
{"p":"N","s":"L","t":99,"v":-68,"lo":-75,"hi":-61},
{"p":"N","s":"L","t":100,"v":-64,"lo":-72,"hi":-56},
{"p":"N","s":"L","t":101,"v":-66,"lo":-74,"hi":-58},
{"p":"N","s":"L","t":102,"v":-62,"lo":-70,"hi":-54},
{"p":"N","s":"L","t":103,"v":-64,"lo":-72,"hi":-56},
{"p":"N","s":"L","t":104,"v":-57,"lo":-66,"hi":-48},
{"p":"N","s":"L","t":105,"v":-62,"lo":-71,"hi":-53},
{"p":"N","s":"L","t":106,"v":-54,"lo":-64,"hi":-44},
{"p":"N","s":"L","t":107,"v":-51,"lo":-61,"hi":-41},
{"p":"N","s":"L","t":108,"v":-55,"lo":-65,"hi":-45},
{"p":"N","s":"L","t":109,"v":-47,"lo":-58,"hi":-36},
{"p":"N","s":"L","t":110,"v":-53,"lo":-64,"hi":-42},
{"p":"N","s":"L","t":111,"v":-51,"lo":-63,"hi":-39},
{"p":"N","s":"L","t":112,"v":-45,"lo":-57,"hi":-33},
{"p":"N","s":"L","t":113,"v":-38,"lo":-51,"hi":-25},
{"p":"N","s":"L","t":114,"v":-41,"lo":-55,"hi":-27},
{"p":"N","s":"L","t":115,"v":-15,"lo":-35,"hi":5},
{"p":"N","s":"L","t":116,"v":500,"lo":200,"hi":800},
{"p":"N","s":"L","t":117,"v":-500,"lo":-800,"hi":-200},
{"p":"N","s":"L","t":118,"v":500,"lo":-300,"hi":1300},
{"p":"N","s":"L","t":119,"v":-500,"lo":-800,"hi":-200},
{"p":"N","s":"L","t":120,"v":500,"lo":200,"hi":800},
{"p":"N","s":"L","t":121,"v":-42,"lo":-142,"hi":58},
{"p":"N","s":"L","t":122,"v":-78,"lo":-178,"hi":22},
{"p":"N","s":"L","t":123,"v":-500,"lo":-800,"hi":-200},
{"p":"N","s":"L","t":124,"v":-90,"lo":-190,"hi":10},
{"p":"N","s":"L","t":125,"v":-500,"lo":-1300,"hi":300},
{"p":"N","s":"L","t":126,"v":500,"lo":200,"hi":800},
{"p":"N","s":"L","t":127,"v":-500,"lo":-800,"hi":-200},
{"p":"N","s":"L","t":128,"v":500,"lo":-300,"hi":1300},
{"p":"N","s":"L","t":129,"v":-500,"lo":-800,"hi":-200},
{"p":"N","s":"L","t":130,"v":-500,"lo":-1300,"hi":300},
{"p":"N","s":"L","t":131,"v":-92,"lo":-172,"hi":-12},
{"p":"N","s":"L","t":132,"v":-500,"lo":-800,"hi":-200},
{"p":"N","s":"L","t":133,"v":-77,"lo":-157,"hi":3},
{"p":"N","s":"L","t":134,"v":-500,"lo":-800,"hi":-200},
{"p":"N","s":"L","t":135,"v":500,"lo":-300,"hi":1300},
{"p":"N","s":"L","t":136,"v":-500,"lo":-800,"hi":-200},
{"p":"N","s":"L","t":137,"v":-500,"lo":-1300,"hi":300},
{"p":"N","s":"L","t":138,"v":-98,"lo":-158,"hi":-38},
{"p":"N","s":"L","t":139,"v":-86,"lo":-136,"hi":-36},
{"p":"N","s":"L","t":140,"v":-89,"lo":-134,"hi":-44},
{"p":"N","s":"L","t":141,"v":-90,"lo":-130,"hi":-50},
{"p":"N","s":"L","t":142,"v":-71,"lo":-106,"hi":-36},
{"p":"N","s":"L","t":143,"v":-65,"lo":-95,"hi":-35},
{"p":"N","s":"L","t":144,"v":-48,"lo":-78,"hi":-18},
{"p":"N","s":"L","t":145,"v":-46,"lo":-76,"hi":-16},
{"p":"N","s":"L","t":146,"v":-24,"lo":-54,"hi":6},
{"p":"N","s":"L","t":147,"v":-33,"lo":-63,"hi":-3},
{"p":"N","s":"L","t":148,"v":-42,"lo":-72,"hi":-12}
]},
"facet":{"row":{"field":"p","type":"nominal","header":null}},
"spacing":7,
"spec":{
"width":787,"height":200,
"layer":[
{"transform":[{"filter":"isValid(datum.s)"}],
"mark":{"type":"line","clip":true,"strokeDash":[1.5,2.5],"strokeWidth":1.3,"color":"#222"},
"encoding":{
"x":{"field":"t","type":"quantitative","scale":{"domain":[0,150],"nice":false,"zero":false},
"axis":{"orient":"bottom","values":[0,30,60,90,120,150],"tickSize":10,"labelFontSize":18,"labelPadding":4,"offset":16,"title":"Time after injection  ( s )","titleFontSize":25,"titleFontWeight":"normal","titlePadding":8}},
"y":{"field":"lo","type":"quantitative","scale":{"domain":[-100,5],"nice":false,"zero":false},
"axis":{"orient":"left","values":[-100,-80,-60,-40,-20,0],"labelExpr":"'' + datum.value","tickSize":12,"labelFontSize":17,"labelPadding":4,"offset":20,"title":null}},
"detail":{"field":"s"}}},
{"transform":[{"filter":"isValid(datum.s)"}],
"mark":{"type":"line","clip":true,"strokeDash":[1.5,2.5],"strokeWidth":1.3,"color":"#222"},
"encoding":{
"x":{"field":"t","type":"quantitative","axis":{"orient":"bottom","values":[0,10,20,30,40,50,60,70,80,90,100,110,120,130,140,150],"tickSize":5,"labels":false,"offset":16,"title":null}},
"y":{"field":"hi","type":"quantitative","axis":{"orient":"left","values":[-100,-95,-90,-85,-80,-75,-70,-65,-60,-55,-50,-45,-40,-35,-30,-25,-20,-15,-10,-5,0],"tickSize":5,"labels":false,"offset":20,"title":null}},
"detail":{"field":"s"}}},
{"transform":[{"filter":"isValid(datum.s)"}],
"mark":{"type":"line","clip":true,"strokeWidth":1.2,"color":"#222"},
"encoding":{
"x":{"field":"t","type":"quantitative","axis":null},
"y":{"field":"v","type":"quantitative","axis":null},
"detail":{"field":"s"}}},
{"transform":[{"filter":"isValid(datum.s) && datum.v >= -101 && datum.v <= 6"}],
"mark":{"type":"point","shape":"circle","size":95,"filled":true,"stroke":"#111","strokeWidth":1.2,"opacity":1},
"encoding":{
"x":{"field":"t","type":"quantitative","axis":null},
"y":{"field":"v","type":"quantitative","axis":null},
"fill":{"field":"s","type":"nominal","scale":{"domain":["C","L"],"range":["white","#111"]},
"legend":{"orient":"none","legendX":311,"legendY":-42,"direction":"horizontal","title":null,"symbolType":"M-2.5,0H-0.49M0.49,0H2.5M0.49,0A0.49,0.49 0 1,1 -0.49,0A0.49,0.49 0 1,1 0.49,0Z","symbolSize":484,"symbolStrokeColor":"#111","symbolStrokeWidth":1.2,"symbolOpacity":1,"labelFontSize":22,"labelFontWeight":"bold","labelColor":"#222","labelFont":"Liberation Sans","labelLimit":400,"labelExpr":"datum.label == 'C' ? 'Control' : 'during L-NAME'","columnPadding":28,"labelOffset":29}}}},
{"transform":[{"filter":"isValid(datum.lab)"}],
"mark":{"type":"text","align":"left","baseline":"middle","fontSize":19,"fontWeight":"bold","font":"Liberation Sans","color":"#222"},
"encoding":{
"x":{"field":"t","type":"quantitative","axis":null},
"y":{"field":"v","type":"quantitative","axis":null},
"text":{"field":"lab"}}},
{"transform":[{"filter":"isValid(datum.arr)"}],
"mark":{"type":"text","align":"center","baseline":"middle","fontSize":28,"fontWeight":"bold","font":"DejaVu Sans","color":"#222"},
"encoding":{
"x":{"field":"t","type":"quantitative","axis":null},
"y":{"field":"v","type":"quantitative","axis":null},
"text":{"field":"arr"}}}
],
"resolve":{"axis":{"x":"independent","y":"independent"}}
}
}
